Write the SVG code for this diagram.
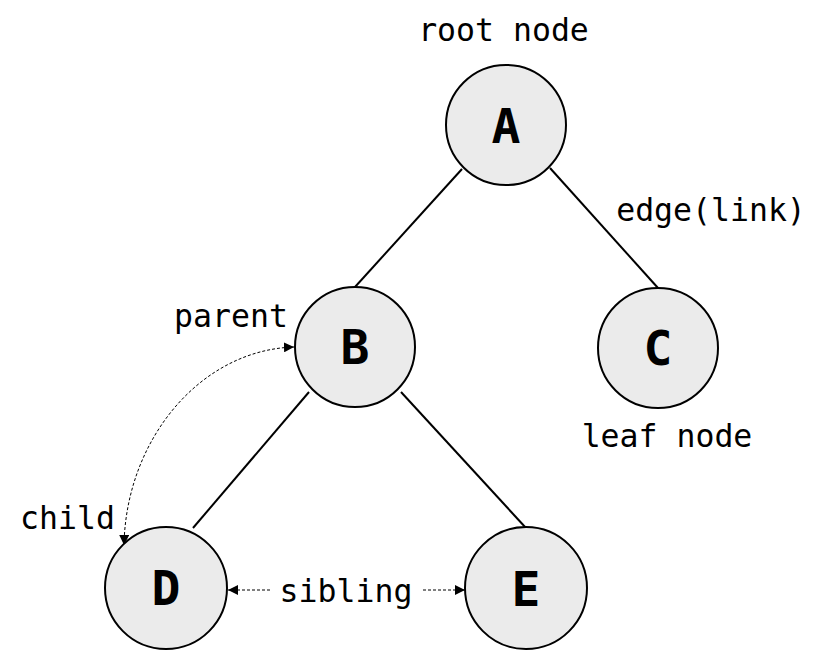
<svg xmlns="http://www.w3.org/2000/svg" width="828" height="654" viewBox="0 0 828 654">
  <defs>
    <marker id="arr" viewBox="0 0 10 10" refX="10" refY="5" markerWidth="10" markerHeight="10" markerUnits="userSpaceOnUse" orient="auto-start-reverse">
      <path d="M0,0 L10,5 L0,10 z" fill="#000"/>
    </marker>
    <style>
      .node circle { fill: #ebebeb; stroke: #000; stroke-width: 2; }
      .node text { font-family: "DejaVu Sans Mono", "Liberation Mono", monospace; font-weight: bold; font-size: 48px; text-anchor: middle; fill: #000; }
      .edge { stroke: #000; stroke-width: 2; fill: none; }
      .rel { stroke: #000; stroke-width: 1; stroke-dasharray: 3 2; fill: none; }
      .lbl { font-family: "DejaVu Sans Mono", "Liberation Mono", monospace; font-size: 31.5px; text-anchor: middle; fill: #000; }
    </style>
  </defs>
  <rect width="828" height="654" fill="#fff"/>
  <g id="connectors">
    <line class="edge" x1="462" y1="169" x2="355" y2="287"/>
    <line class="edge" x1="550" y1="168" x2="658" y2="288"/>
    <line class="edge" x1="309" y1="392" x2="193" y2="528"/>
    <line class="edge" x1="401" y1="392" x2="526" y2="528"/>
    <path class="rel" d="M124,545 C126,440 200,350 294,347" marker-start="url(#arr)" marker-end="url(#arr)"/>
    <line class="rel" x1="270" y1="590" x2="228" y2="590" marker-end="url(#arr)"/>
    <line class="rel" x1="423" y1="590" x2="465" y2="590" marker-end="url(#arr)"/>
  </g>
  <g id="node-A" class="node">
    <circle cx="506" cy="125" r="60"/>
    <text x="506" y="143">A</text>
  </g>
  <g id="node-B" class="node">
    <circle cx="355" cy="347" r="60"/>
    <text x="355" y="364">B</text>
  </g>
  <g id="node-C" class="node">
    <circle cx="658" cy="348" r="60"/>
    <text x="658" y="365">C</text>
  </g>
  <g id="node-D" class="node">
    <circle cx="166" cy="588" r="61"/>
    <text x="166" y="605">D</text>
  </g>
  <g id="node-E" class="node">
    <circle cx="526" cy="588" r="61"/>
    <text x="526" y="606">E</text>
  </g>
  <g id="labels">
    <text class="lbl" x="503.5" y="41">root node</text>
    <text class="lbl" x="711" y="221">edge(link)</text>
    <text class="lbl" x="231" y="327">parent</text>
    <text class="lbl" x="667" y="447">leaf node</text>
    <text class="lbl" x="67.5" y="529">child</text>
    <text class="lbl" x="346" y="602">sibling</text>
  </g>
</svg>
